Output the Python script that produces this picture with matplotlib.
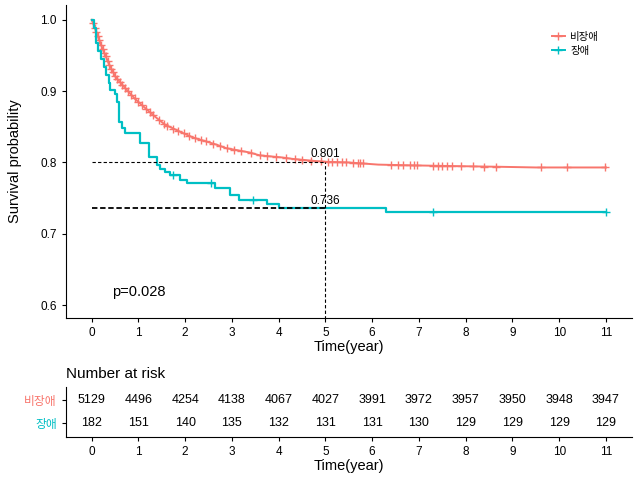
import numpy as np
import matplotlib
matplotlib.use("Agg")
import matplotlib.pyplot as plt

plt.rcParams['font.family'] = ['Liberation Sans', 'Noto Sans CJK KR', 'DejaVu Sans']

groups = ['비장애', '장애']
colors = ['#F8766D', '#00BFC4']

# 비장애 curve
t_red = [0, 0.05, 0.12, 0.23, 0.37, 0.51, 0.72, 0.93, 1.15, 1.36, 1.57, 1.96, 2.17,
         2.67, 2.88, 3.38, 3.59, 4.08, 4.30, 4.79, 5.0, 5.5, 6.13, 6.8, 7.69, 8.68, 9.5, 11.0]
s_red = [1.0, 0.992, 0.979, 0.960, 0.938, 0.920, 0.904, 0.889, 0.876, 0.864, 0.853, 0.841, 0.835,
         0.825, 0.820, 0.814, 0.810, 0.807, 0.805, 0.802, 0.801, 0.800, 0.797, 0.796, 0.795, 0.794, 0.793, 0.793]
cens_red = [0.03, 0.07, 0.1, 0.13, 0.16, 0.2, 0.24, 0.27, 0.3, 0.34, 0.38, 0.42, 0.46, 0.5, 0.55,
            0.6, 0.66, 0.72, 0.78, 0.85, 0.92, 1.0, 1.08, 1.17, 1.25, 1.32, 1.45, 1.55, 1.62, 1.75,
            1.85, 1.97, 2.08, 2.2, 2.33, 2.45, 2.6, 2.75, 2.9, 3.05, 3.2, 3.4, 3.6, 3.75, 3.95, 4.15,
            4.35, 4.5, 4.7, 4.9, 5.05, 5.15, 5.25, 5.35, 5.45, 5.6, 5.7, 5.75, 5.8, 6.4, 6.55, 6.65,
            6.8, 6.9, 6.95, 7.3, 7.4, 7.5, 7.6, 7.7, 7.9, 8.15, 8.4, 8.65, 9.6, 10.17, 10.98]

# 장애 curve
t_cyan = [0, 0.04, 0.085, 0.13, 0.2, 0.26, 0.30, 0.37, 0.40, 0.51, 0.55, 0.58, 0.65, 0.72,
          1.04, 1.22, 1.39, 1.47, 1.57, 1.68, 1.89, 2.03, 2.63, 2.95, 3.16, 3.76, 4.01, 6.3, 11.0]
s_cyan = [1.0, 0.989, 0.967, 0.956, 0.945, 0.934, 0.923, 0.912, 0.901, 0.896, 0.885, 0.857, 0.848,
          0.841, 0.827, 0.808, 0.797, 0.791, 0.786, 0.782, 0.775, 0.771, 0.764, 0.754, 0.748, 0.742,
          0.736, 0.730, 0.730]
cens_cyan = [1.75, 2.55, 3.45, 7.3, 11.0]

risk_times = list(range(12))
risk_red = [5129, 4496, 4254, 4138, 4067, 4027, 3991, 3972, 3957, 3950, 3948, 3947]
risk_cyan = [182, 151, 140, 135, 132, 131, 131, 130, 129, 129, 129, 129]

fig = plt.figure(figsize=(6.4, 4.8), dpi=100)
ax = fig.add_axes([0.103, 0.3375, 0.884, 0.6525])

ax.plot(t_red, s_red, color=colors[0], lw=1.4)
ax.plot(cens_red, np.interp(cens_red, t_red, s_red), '+', color=colors[0], ms=6, mew=1.0)
ax.step(t_cyan, s_cyan, where='post', color=colors[1], lw=1.6)
s_cyan_at = [s_cyan[np.searchsorted(t_cyan, c, side='right') - 1] for c in cens_cyan]
ax.plot(cens_cyan, s_cyan_at, '+', color=colors[1], ms=6, mew=1.0)

# 5-year reference lines
s5_red = 0.801
s5_cyan = 0.736
ax.plot([0, 5], [s5_red, s5_red], 'k--', lw=0.8, dashes=(3, 2))
ax.plot([0, 5], [s5_cyan, s5_cyan], 'k--', lw=1.3, dashes=(3, 1.5))
ax.plot([5, 5], [0.58, s5_red], 'k--', lw=0.8, dashes=(3, 2))
ax.text(5, s5_red + 0.002, '0.801', ha='center', va='bottom', fontsize=8.5)
ax.text(5, s5_cyan + 0.002, '0.736', ha='center', va='bottom', fontsize=8.5)
ax.text(1.0, 0.618, 'p=0.028', ha='center', va='center', fontsize=10.5)

ax.set_xlim(-0.55, 11.55)
ax.set_ylim(0.582, 1.021)
ax.set_xticks(risk_times)
ax.set_yticks([0.6, 0.7, 0.8, 0.9, 1.0])
ax.set_yticklabels(['0.6', '0.7', '0.8', '0.9', '1.0'])
ax.set_xlabel('Time(year)', fontsize=10.5, labelpad=1)
ax.set_ylabel('Survival probability', fontsize=10.5, labelpad=13)
for sp in ['top', 'right']:
    ax.spines[sp].set_visible(False)
ax.tick_params(labelsize=8.5, length=3)

h1, = ax.plot([], [], color=colors[0], marker='+', lw=1.4, ms=6)
h2, = ax.plot([], [], color=colors[1], marker='+', lw=1.4, ms=6)
ax.legend([h1, h2], groups, loc='center left', bbox_to_anchor=(0.842, 0.875), frameon=False,
          fontsize=7.5, handlelength=1.3, handletextpad=0.5, labelspacing=0.4)

# risk table
ax2 = fig.add_axes([0.103, 0.0896, 0.884, 0.105])
for i in risk_times:
    ax2.text(i, 2, str(risk_red[i]), ha='center', va='center', fontsize=9)
    ax2.text(i, 1, str(risk_cyan[i]), ha='center', va='center', fontsize=9)
ax2.set_xlim(-0.55, 11.55)
ax2.set_ylim(0.4, 2.6)
ax2.set_xticks(risk_times)
ax2.set_yticks([2, 1])
ax2.set_yticklabels(groups, fontsize=9)
for lab, c in zip(ax2.get_yticklabels(), colors):
    lab.set_color(c)
for sp in ['top', 'right']:
    ax2.spines[sp].set_visible(False)
ax2.tick_params(labelsize=8.5, length=3)
ax2.set_xlabel('Time(year)', fontsize=10.5, labelpad=1)
ax2.set_title('Number at risk', loc='left', fontsize=11, x=0.0, pad=6)

fig.savefig('out.png', dpi=100)
